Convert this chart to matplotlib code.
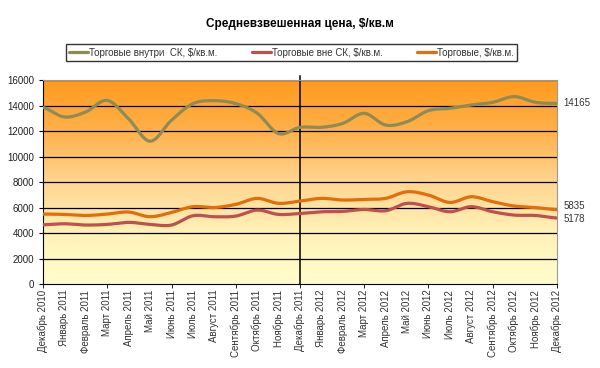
import numpy as np
import matplotlib
matplotlib.use("Agg")
import matplotlib.pyplot as plt
from matplotlib.colors import LinearSegmentedColormap

plt.rcParams['font.family'] = ['Liberation Sans', 'DejaVu Sans']

# ===== данные =====
months = ["Декабрь 2010", "Январь 2011", "Февраль 2011", "Март 2011", "Апрель 2011",
          "Май 2011", "Июнь 2011", "Июль 2011", "Август 2011", "Сентябрь 2011",
          "Октябрь 2011", "Ноябрь 2011", "Декабрь 2011", "Январь 2012", "Февраль 2012",
          "Март 2012", "Апрель 2012", "Май 2012", "Июнь 2012", "Июль 2012",
          "Август 2012", "Сентябрь 2012", "Октябрь 2012", "Ноябрь 2012", "Декабрь 2012"]

inside_sk = [13850, 13100, 13500, 14400, 12950, 11200, 12850, 14150, 14380, 14150,
             13400, 11800, 12290, 12290, 12600, 13390, 12470, 12730, 13600, 13780,
             14040, 14250, 14700, 14250, 14165]
outside_sk = [4650, 4730, 4630, 4680, 4840, 4680, 4630, 5360, 5280, 5330,
              5800, 5460, 5540, 5670, 5700, 5850, 5750, 6330, 6070, 5670,
              6070, 5670, 5410, 5380, 5178]
trade = [5490, 5460, 5380, 5490, 5650, 5280, 5620, 6070, 6000, 6250,
         6720, 6330, 6510, 6720, 6590, 6640, 6720, 7240, 6980, 6400,
         6850, 6460, 6120, 6000, 5835]

series = [
    ("Торговые внутри  СК, $/кв.м.", inside_sk, "#8c8c58"),
    ("Торговые вне СК, $/кв.м.", outside_sk, "#c0504d"),
    ("Торговые, $/кв.м.", trade, "#e46c0a"),
]


# сглаживание линии как в Excel (Catmull-Rom), только для отрисовки
def smooth(y, steps=12):
    y = np.asarray(y, dtype=float)
    x = np.arange(len(y), dtype=float)
    p = np.concatenate([[y[0]], y, [y[-1]]])
    xs, ys = [], []
    for i in range(len(y) - 1):
        p0, p1, p2, p3 = p[i], p[i + 1], p[i + 2], p[i + 3]
        t = np.linspace(0, 1, steps, endpoint=False)
        yy = 0.5 * ((2 * p1) + (-p0 + p2) * t + (2 * p0 - 5 * p1 + 4 * p2 - p3) * t ** 2
                    + (-p0 + 3 * p1 - 3 * p2 + p3) * t ** 3)
        xs.extend(x[i] + t)
        ys.extend(yy)
    xs.append(x[-1])
    ys.append(y[-1])
    return np.array(xs), np.array(ys)


fig = plt.figure(figsize=(6, 3.68), dpi=100)
ax = fig.add_axes([0.0717, 0.228, 0.8566, 0.5546])

n = len(months)
ax.set_xlim(0, n - 1)
ax.set_ylim(0, 16000)

# градиентный фон
cmap = LinearSegmentedColormap.from_list("bg", ["#fffdcc", "#fff2b8", "#ffd590", "#ffb04a", "#ff9a1c"])
grad = np.linspace(0, 1, 256).reshape(-1, 1)
ax.imshow(grad, aspect="auto", cmap=cmap, origin="lower",
          extent=[0, n - 1, 0, 16000], zorder=0)

for yv in range(2000, 16001, 2000):
    ax.axhline(yv, color="black", lw=0.9, zorder=1)

ax.plot([12, 12], [0, 16300], color="black", lw=1.1, zorder=2, clip_on=False)

handles = []
for label, vals, color in series:
    xs, ys = smooth(vals)
    h, = ax.plot(xs, ys, color=color, lw=2.3, label=label, zorder=3, solid_capstyle="round")
    handles.append(h)

# подписи последних значений
for vals, dy in [(inside_sk, 0), (trade, 280), (outside_sk, -80)]:
    ax.text(n - 1 + 0.3, vals[-1] + dy, str(vals[-1]), fontsize=7, color="#333333",
            va="center", ha="left")

ax.set_yticks(range(0, 16001, 2000))
ax.xaxis.remove_overlapping_locs = False
ax.set_xticks(range(n))
ax.set_xticklabels(months, rotation=90)
ax.set_xticks(range(0, n, 3), minor=True)
ax.tick_params(axis="y", labelsize=7, length=3, colors="black", labelcolor="#222222")
ax.tick_params(axis="x", which="major", length=0, labelsize=7, labelcolor="#333333", pad=4)
ax.tick_params(axis="x", which="minor", length=3, colors="black")

for s in ["top", "right"]:
    ax.spines[s].set_color("#999999")
ax.spines["left"].set_color("black")
ax.spines["bottom"].set_color("black")

fig.text(0.5, 0.935, "Средневзвешенная цена, $/кв.м", ha="center", va="center",
         fontsize=8.5, fontweight="bold")

leg = fig.legend(handles=handles, loc="center", bbox_to_anchor=(0.4858, 0.857), ncol=3,
                 fontsize=7, frameon=True, fancybox=False, edgecolor="black",
                 handlelength=2.0, handletextpad=0.1, columnspacing=3.5,
                 borderpad=0.35)
leg.get_frame().set_linewidth(1.0)
for t in leg.get_texts():
    t.set_color("#333333")

fig.savefig("out.png", dpi=100)
